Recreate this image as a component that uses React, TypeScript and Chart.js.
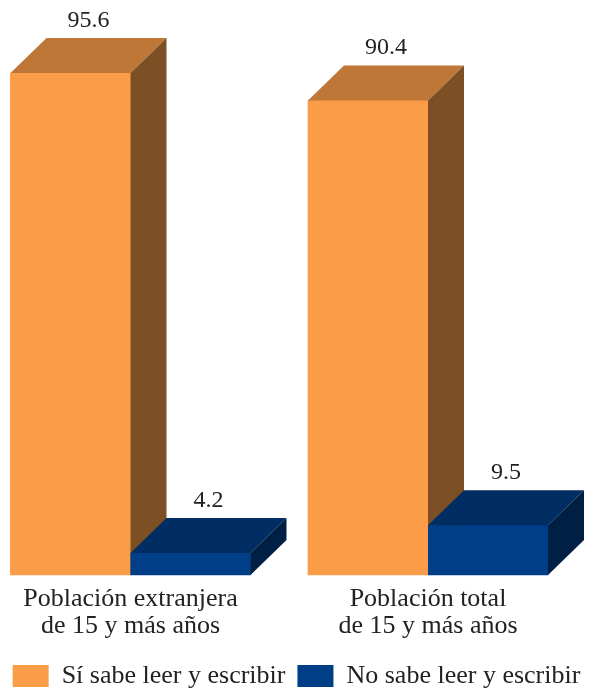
import React, { useEffect, useRef } from "react";
import { Chart, registerables } from "chart.js";

Chart.register(...registerables);

const categories = ["Población extranjera de 15 y más años", "Población total de 15 y más años"];
const categoryLines = [
  ["Población extranjera", "de 15 y más años"],
  ["Población total", "de 15 y más años"],
];
const seriesNames = ["Sí sabe leer y escribir", "No sabe leer y escribir"];
const siSabe = [95.6, 90.4];
const noSabe = [4.2, 9.5];

const FONT = '"Liberation Serif", "Times New Roman", serif';
const FRONT = ["#FA9C48", "#003F87"];
const TOP = ["#BF7738", "#002E63"];
const SIDE = ["#7D4F24", "#001F45"];
const DX = 36;
const DY = 35;

const depthPlugin = {
  id: "depth3d",
  afterDatasetsDraw(chart: any) {
    const ctx = chart.ctx;
    const n = chart.data.labels.length;
    ctx.save();
    for (let i = 0; i < n; i++) {
      chart.data.datasets.forEach((ds: any, d: number) => {
        const meta = chart.getDatasetMeta(d);
        const el: any = meta.data[i];
        if (!el) return;
        const l = el.x - el.width / 2;
        const r = el.x + el.width / 2;
        const t = el.y;
        const b = el.base;
        ctx.fillStyle = FRONT[d];
        ctx.fillRect(l, t, r - l, b - t);
        ctx.fillStyle = TOP[d];
        ctx.beginPath();
        ctx.moveTo(l, t);
        ctx.lineTo(l + DX, t - DY);
        ctx.lineTo(r + DX, t - DY);
        ctx.lineTo(r, t);
        ctx.closePath();
        ctx.fill();
        ctx.fillStyle = SIDE[d];
        ctx.beginPath();
        ctx.moveTo(r, t);
        ctx.lineTo(r + DX, t - DY);
        ctx.lineTo(r + DX, b - DY);
        ctx.lineTo(r, b);
        ctx.closePath();
        ctx.fill();
        ctx.fillStyle = "#222222";
        ctx.font = "24px " + FONT;
        ctx.textAlign = "center";
        ctx.textBaseline = "alphabetic";
        const v = ds.data[i].y;
        ctx.fillText(v.toFixed(1), el.x + DX / 2, t - DY - 11);
      });
    }
    ctx.restore();
  },
};

export default function App() {
  const ref = useRef<HTMLCanvasElement>(null);
  useEffect(() => {
    document.body.style.margin = "0";
    const series = [siSabe, noSabe];
    const chart = new Chart(ref.current!, {
      type: "bar",
      data: {
        labels: categories,
        datasets: seriesNames.map((name, d) => ({
          label: name,
          data: series[d].map((v, i) => ({ x: i, y: v })),
          backgroundColor: FRONT[d],
          borderWidth: 0,
          barThickness: 120,
          clip: false as any,
        })),
      },
      options: {
        animation: false,
        responsive: false,
        maintainAspectRatio: false,
        layout: { padding: { top: 50, left: 0, right: 0, bottom: -10 } },
        scales: {
          x: {
            type: "linear",
            offset: false,
            bounds: "data",
            min: -0.4387,
            max: 1.5546,
            grid: { display: false, drawTicks: false },
            border: { display: false },
            afterBuildTicks: (scale: any) => {
              scale.ticks = categories.map((_, i) => ({ value: i }));
            },
            afterFit: (scale: any) => {
              scale.height = 76;
            },
            ticks: {
              autoSkip: false,
              maxRotation: 0,
              padding: 10,
              color: "#222222",
              font: { family: FONT, size: 26, lineHeight: 1.06 },
              callback: (v: any) => categoryLines[v] ?? "",
            },
          },
          y: { display: false, min: 0, max: 100 },
        },
        plugins: {
          legend: {
            position: "bottom",
            labels: {
              boxWidth: 36,
              boxHeight: 22,
              padding: 12,
              color: "#222222",
              font: { family: FONT, size: 26 },
            },
          },
          tooltip: { enabled: false },
        },
      },
      plugins: [depthPlugin],
    });
    return () => chart.destroy();
  }, []);
  return (
    <div style={{ width: 593, height: 689 }}>
      <canvas ref={ref} width={593} height={689} style={{ width: 593, height: 689 }} />
    </div>
  );
}
